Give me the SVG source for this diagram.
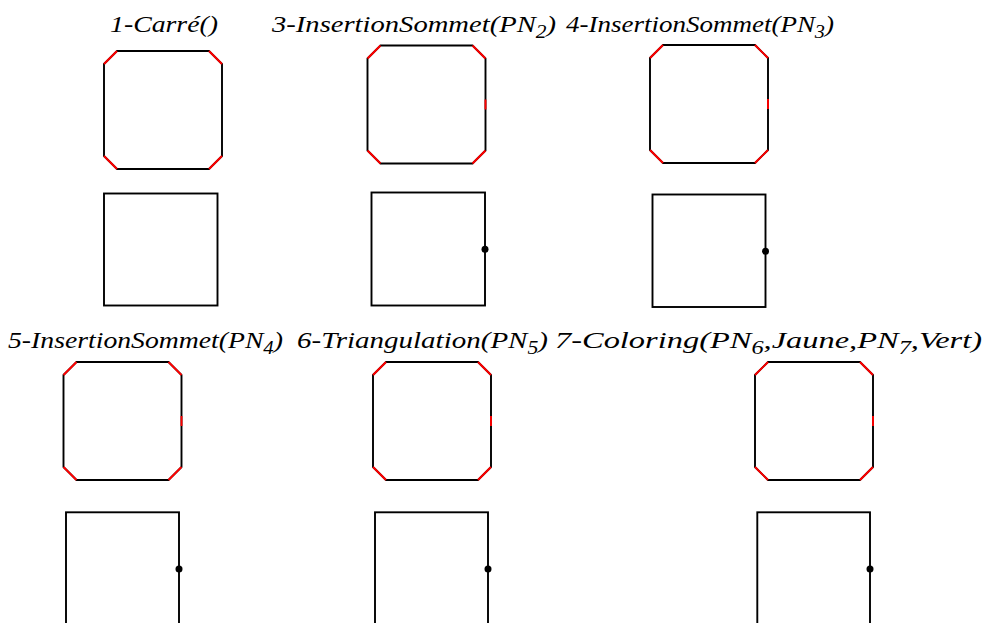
<svg xmlns="http://www.w3.org/2000/svg" xmlns:xlink="http://www.w3.org/1999/xlink" width="985" height="623" viewBox="0 0 985 623">
<style>
.t{font-family:"Liberation Serif","DejaVu Serif",serif;font-style:italic;font-size:24px;fill:#000}
.s{font-size:18px}
.blk{fill:none;stroke:#000;stroke-width:1.9}
.red{fill:none;stroke:#f00;stroke-width:1.9}
.dot{fill:#000}
</style>
<defs>
<g id="oct">
<polygon class="blk" points="13,0 105,0 118,13 118,105 105,118 13,118 0,105 0,13"/>
<path class="red" d="M0,13 L13,0 M105,0 L118,13 M118,105 L105,118 M13,118 L0,105"/>
</g>
<path id="mark" class="red" d="M118,54 V64"/>
</defs>
<g id="connectors"/>
<g id="panel1">
<text class="t" x="110" y="32" textLength="108" lengthAdjust="spacingAndGlyphs">1-Carré()</text>
<use xlink:href="#oct" transform="translate(104,51)"/>
<rect class="blk" x="104" y="193.5" width="113.5" height="112"/>
</g>
<g id="panel3">
<text class="t" x="272" y="32" textLength="284" lengthAdjust="spacingAndGlyphs">3-InsertionSommet(PN<tspan class="s" dy="6">2</tspan><tspan dy="-6">)</tspan></text>
<use xlink:href="#oct" transform="translate(367.5,45.5)"/>
<use xlink:href="#mark" transform="translate(367.5,45.5)"/>
<rect class="blk" x="371.5" y="192.5" width="113.5" height="113"/>
<circle class="dot" cx="485" cy="249.3" r="3.5"/>
</g>
<g id="panel4">
<text class="t" x="566" y="32" textLength="268" lengthAdjust="spacingAndGlyphs">4-InsertionSommet(PN<tspan class="s" dy="6">3</tspan><tspan dy="-6">)</tspan></text>
<use xlink:href="#oct" transform="translate(650,45)"/>
<use xlink:href="#mark" transform="translate(650,45)"/>
<rect class="blk" x="652.5" y="194.5" width="113" height="112.5"/>
<circle class="dot" cx="765.5" cy="251.3" r="3.5"/>
</g>
<g id="panel5">
<text class="t" x="8" y="348" textLength="275" lengthAdjust="spacingAndGlyphs">5-InsertionSommet(PN<tspan class="s" dy="6">4</tspan><tspan dy="-6">)</tspan></text>
<use xlink:href="#oct" transform="translate(63.5,362)"/>
<use xlink:href="#mark" transform="translate(63.5,362)"/>
<rect class="blk" x="66" y="512.3" width="113" height="114"/>
<circle class="dot" cx="179" cy="569" r="3.5"/>
</g>
<g id="panel6">
<text class="t" x="297" y="348" textLength="251" lengthAdjust="spacingAndGlyphs">6-Triangulation(PN<tspan class="s" dy="6">5</tspan><tspan dy="-6">)</tspan></text>
<use xlink:href="#oct" transform="translate(373,362)"/>
<use xlink:href="#mark" transform="translate(373,362)"/>
<rect class="blk" x="375" y="512.3" width="113" height="114"/>
<circle class="dot" cx="488" cy="569" r="3.5"/>
</g>
<g id="panel7">
<text class="t" x="555" y="348" textLength="427" lengthAdjust="spacingAndGlyphs">7-Coloring(PN<tspan class="s" dy="6">6</tspan><tspan dy="-6">,Jaune,PN</tspan><tspan class="s" dy="6">7</tspan><tspan dy="-6">,Vert)</tspan></text>
<use xlink:href="#oct" transform="translate(755,362)"/>
<use xlink:href="#mark" transform="translate(755,362)"/>
<rect class="blk" x="757.3" y="512.3" width="112.7" height="114"/>
<circle class="dot" cx="870" cy="569" r="3.5"/>
</g>
</svg>
